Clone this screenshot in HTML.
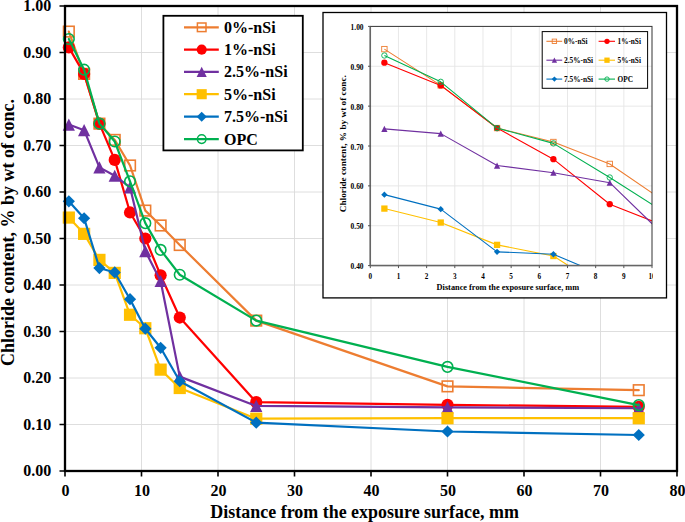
<!DOCTYPE html><html><head><meta charset="utf-8"><title>Chloride content</title>
<style>html,body{margin:0;padding:0;background:#fff}svg{display:block}text{font-family:"Liberation Serif",serif;font-weight:bold;fill:#000}</style></head><body>
<svg width="685" height="522" viewBox="0 0 685 522">
<rect x="0" y="0" width="685" height="522" fill="#fff"/>
<defs><clipPath id="ic"><rect x="370.30" y="26.40" width="281.70" height="239.20"/></clipPath><clipPath id="tc"><rect x="300" y="268" width="353" height="20"/></clipPath></defs>
<path d="M141.50 6.0 V471.0 M218.00 6.0 V471.0 M294.50 6.0 V471.0 M371.00 6.0 V471.0 M447.50 6.0 V471.0 M524.00 6.0 V471.0 M600.50 6.0 V471.0 M65.0 424.50 H677.0 M65.0 378.00 H677.0 M65.0 331.50 H677.0 M65.0 285.00 H677.0 M65.0 238.50 H677.0 M65.0 192.00 H677.0 M65.0 145.50 H677.0 M65.0 99.00 H677.0 M65.0 52.50 H677.0" stroke="#DADADA" stroke-width="0.9" fill="none"/>
<polyline points="68.83,31.58 84.12,73.89 99.42,123.64 114.72,139.92 130.03,165.50 145.32,210.60 160.62,225.48 179.75,245.01 256.25,320.62 447.50,386.37 638.75,390.18" fill="none" stroke="#ED7D31" stroke-width="2.2" stroke-linejoin="round" stroke-linecap="round"/>
<rect x="63.53" y="26.28" width="10.60" height="10.60" fill="none" stroke="#ED7D31" stroke-width="1.6"/>
<rect x="78.83" y="68.59" width="10.60" height="10.60" fill="none" stroke="#ED7D31" stroke-width="1.6"/>
<rect x="94.12" y="118.34" width="10.60" height="10.60" fill="none" stroke="#ED7D31" stroke-width="1.6"/>
<rect x="109.42" y="134.62" width="10.60" height="10.60" fill="none" stroke="#ED7D31" stroke-width="1.6"/>
<rect x="124.73" y="160.19" width="10.60" height="10.60" fill="none" stroke="#ED7D31" stroke-width="1.6"/>
<rect x="140.02" y="205.30" width="10.60" height="10.60" fill="none" stroke="#ED7D31" stroke-width="1.6"/>
<rect x="155.32" y="220.18" width="10.60" height="10.60" fill="none" stroke="#ED7D31" stroke-width="1.6"/>
<rect x="174.45" y="239.71" width="10.60" height="10.60" fill="none" stroke="#ED7D31" stroke-width="1.6"/>
<rect x="250.95" y="315.32" width="10.60" height="10.60" fill="none" stroke="#ED7D31" stroke-width="1.6"/>
<rect x="442.20" y="381.07" width="10.60" height="10.60" fill="none" stroke="#ED7D31" stroke-width="1.6"/>
<rect x="633.45" y="384.88" width="10.60" height="10.60" fill="none" stroke="#ED7D31" stroke-width="1.6"/>
<polyline points="68.83,47.38 84.12,73.89 99.42,123.64 114.72,159.91 130.03,212.46 145.32,238.50 160.62,275.24 179.75,317.55 256.25,402.18 447.50,404.83 638.75,406.83" fill="none" stroke="#FF0000" stroke-width="2.2" stroke-linejoin="round" stroke-linecap="round"/>
<circle cx="68.83" cy="47.38" r="6.10" fill="#FF0000"/>
<circle cx="84.12" cy="73.89" r="6.10" fill="#FF0000"/>
<circle cx="99.42" cy="123.64" r="6.10" fill="#FF0000"/>
<circle cx="114.72" cy="159.91" r="6.10" fill="#FF0000"/>
<circle cx="130.03" cy="212.46" r="6.10" fill="#FF0000"/>
<circle cx="145.32" cy="238.50" r="6.10" fill="#FF0000"/>
<circle cx="160.62" cy="275.24" r="6.10" fill="#FF0000"/>
<circle cx="179.75" cy="317.55" r="6.10" fill="#FF0000"/>
<circle cx="256.25" cy="402.18" r="6.10" fill="#FF0000"/>
<circle cx="447.50" cy="404.83" r="6.10" fill="#FF0000"/>
<circle cx="638.75" cy="406.83" r="6.10" fill="#FF0000"/>
<polyline points="68.83,124.57 84.12,130.16 99.42,167.35 114.72,175.73 130.03,187.35 145.32,251.06 160.62,281.00 179.75,376.61 256.25,405.90 447.50,407.39 638.75,408.23" fill="none" stroke="#7030A0" stroke-width="2.2" stroke-linejoin="round" stroke-linecap="round"/>
<path d="M68.83 118.47 L74.92 130.67 L62.73 130.67 Z" fill="#7030A0"/>
<path d="M84.12 124.06 L90.22 136.26 L78.03 136.26 Z" fill="#7030A0"/>
<path d="M99.42 161.25 L105.52 173.45 L93.33 173.45 Z" fill="#7030A0"/>
<path d="M114.72 169.63 L120.82 181.83 L108.62 181.83 Z" fill="#7030A0"/>
<path d="M130.03 181.25 L136.12 193.45 L123.93 193.45 Z" fill="#7030A0"/>
<path d="M145.32 244.96 L151.42 257.16 L139.22 257.16 Z" fill="#7030A0"/>
<path d="M160.62 274.90 L166.72 287.10 L154.53 287.10 Z" fill="#7030A0"/>
<path d="M179.75 370.50 L185.85 382.71 L173.65 382.71 Z" fill="#7030A0"/>
<path d="M256.25 399.80 L262.35 412.00 L250.15 412.00 Z" fill="#7030A0"/>
<path d="M447.50 401.29 L453.60 413.49 L441.40 413.49 Z" fill="#7030A0"/>
<path d="M638.75 402.12 L644.85 414.33 L632.65 414.33 Z" fill="#7030A0"/>
<polyline points="68.83,217.57 84.12,233.85 99.42,259.89 114.72,272.91 130.03,314.76 145.32,328.25 160.62,369.63 179.75,388.00 256.25,418.69 447.50,418.18 638.75,418.22" fill="none" stroke="#FFC000" stroke-width="2.2" stroke-linejoin="round" stroke-linecap="round"/>
<rect x="62.73" y="211.47" width="12.20" height="12.20" fill="#FFC000"/>
<rect x="78.03" y="227.75" width="12.20" height="12.20" fill="#FFC000"/>
<rect x="93.33" y="253.79" width="12.20" height="12.20" fill="#FFC000"/>
<rect x="108.62" y="266.81" width="12.20" height="12.20" fill="#FFC000"/>
<rect x="123.93" y="308.66" width="12.20" height="12.20" fill="#FFC000"/>
<rect x="139.22" y="322.14" width="12.20" height="12.20" fill="#FFC000"/>
<rect x="154.53" y="363.53" width="12.20" height="12.20" fill="#FFC000"/>
<rect x="173.65" y="381.90" width="12.20" height="12.20" fill="#FFC000"/>
<rect x="250.15" y="412.59" width="12.20" height="12.20" fill="#FFC000"/>
<rect x="441.40" y="412.08" width="12.20" height="12.20" fill="#FFC000"/>
<rect x="632.65" y="412.12" width="12.20" height="12.20" fill="#FFC000"/>
<polyline points="68.83,201.30 84.12,218.23 99.42,268.03 114.72,272.44 130.03,299.18 145.32,328.71 160.62,347.77 179.75,381.25 256.25,422.64 447.50,431.48 638.75,435.01" fill="none" stroke="#0070C0" stroke-width="2.2" stroke-linejoin="round" stroke-linecap="round"/>
<path d="M68.83 195.20 L74.92 201.30 L68.83 207.40 L62.73 201.30 Z" fill="#0070C0"/>
<path d="M84.12 212.13 L90.22 218.23 L84.12 224.33 L78.03 218.23 Z" fill="#0070C0"/>
<path d="M99.42 261.93 L105.52 268.03 L99.42 274.13 L93.33 268.03 Z" fill="#0070C0"/>
<path d="M114.72 266.34 L120.82 272.44 L114.72 278.55 L108.62 272.44 Z" fill="#0070C0"/>
<path d="M130.03 293.08 L136.12 299.18 L130.03 305.28 L123.93 299.18 Z" fill="#0070C0"/>
<path d="M145.32 322.61 L151.42 328.71 L145.32 334.81 L139.22 328.71 Z" fill="#0070C0"/>
<path d="M160.62 341.67 L166.72 347.77 L160.62 353.88 L154.53 347.77 Z" fill="#0070C0"/>
<path d="M179.75 375.15 L185.85 381.25 L179.75 387.36 L173.65 381.25 Z" fill="#0070C0"/>
<path d="M256.25 416.54 L262.35 422.64 L256.25 428.74 L250.15 422.64 Z" fill="#0070C0"/>
<path d="M447.50 425.38 L453.60 431.48 L447.50 437.58 L441.40 431.48 Z" fill="#0070C0"/>
<path d="M638.75 428.91 L644.85 435.01 L638.75 441.11 L632.65 435.01 Z" fill="#0070C0"/>
<polyline points="68.83,39.01 84.12,69.70 99.42,123.64 114.72,141.50 130.03,181.31 145.32,223.15 160.62,249.89 179.75,274.77 256.25,320.62 447.50,366.89 638.75,405.11" fill="none" stroke="#00B050" stroke-width="2.2" stroke-linejoin="round" stroke-linecap="round"/>
<circle cx="68.83" cy="39.01" r="5.30" fill="none" stroke="#00B050" stroke-width="1.6"/>
<circle cx="84.12" cy="69.70" r="5.30" fill="none" stroke="#00B050" stroke-width="1.6"/>
<circle cx="99.42" cy="123.64" r="5.30" fill="none" stroke="#00B050" stroke-width="1.6"/>
<circle cx="114.72" cy="141.50" r="5.30" fill="none" stroke="#00B050" stroke-width="1.6"/>
<circle cx="130.03" cy="181.31" r="5.30" fill="none" stroke="#00B050" stroke-width="1.6"/>
<circle cx="145.32" cy="223.15" r="5.30" fill="none" stroke="#00B050" stroke-width="1.6"/>
<circle cx="160.62" cy="249.89" r="5.30" fill="none" stroke="#00B050" stroke-width="1.6"/>
<circle cx="179.75" cy="274.77" r="5.30" fill="none" stroke="#00B050" stroke-width="1.6"/>
<circle cx="256.25" cy="320.62" r="5.30" fill="none" stroke="#00B050" stroke-width="1.6"/>
<circle cx="447.50" cy="366.89" r="5.30" fill="none" stroke="#00B050" stroke-width="1.6"/>
<circle cx="638.75" cy="405.11" r="5.30" fill="none" stroke="#00B050" stroke-width="1.6"/>
<rect x="65.0" y="6.0" width="612.0" height="465.0" fill="none" stroke="#000" stroke-width="2.3"/>
<path d="M59.5 471.00 H65.0 M59.5 424.50 H65.0 M59.5 378.00 H65.0 M59.5 331.50 H65.0 M59.5 285.00 H65.0 M59.5 238.50 H65.0 M59.5 192.00 H65.0 M59.5 145.50 H65.0 M59.5 99.00 H65.0 M59.5 52.50 H65.0 M59.5 6.00 H65.0 M65.00 471.0 V476.5 M141.50 471.0 V476.5 M218.00 471.0 V476.5 M294.50 471.0 V476.5 M371.00 471.0 V476.5 M447.50 471.0 V476.5 M524.00 471.0 V476.5 M600.50 471.0 V476.5 M677.00 471.0 V476.5" stroke="#000" stroke-width="1.6" fill="none"/>
<text x="51.3" y="476.40" font-size="16" text-anchor="end">0.00</text>
<text x="51.3" y="429.90" font-size="16" text-anchor="end">0.10</text>
<text x="51.3" y="383.40" font-size="16" text-anchor="end">0.20</text>
<text x="51.3" y="336.90" font-size="16" text-anchor="end">0.30</text>
<text x="51.3" y="290.40" font-size="16" text-anchor="end">0.40</text>
<text x="51.3" y="243.90" font-size="16" text-anchor="end">0.50</text>
<text x="51.3" y="197.40" font-size="16" text-anchor="end">0.60</text>
<text x="51.3" y="150.90" font-size="16" text-anchor="end">0.70</text>
<text x="51.3" y="104.40" font-size="16" text-anchor="end">0.80</text>
<text x="51.3" y="57.90" font-size="16" text-anchor="end">0.90</text>
<text x="51.3" y="11.40" font-size="16" text-anchor="end">1.00</text>
<text x="65.50" y="496.2" font-size="16" text-anchor="middle">0</text>
<text x="142.00" y="496.2" font-size="16" text-anchor="middle">10</text>
<text x="218.50" y="496.2" font-size="16" text-anchor="middle">20</text>
<text x="295.00" y="496.2" font-size="16" text-anchor="middle">30</text>
<text x="371.50" y="496.2" font-size="16" text-anchor="middle">40</text>
<text x="448.00" y="496.2" font-size="16" text-anchor="middle">50</text>
<text x="524.50" y="496.2" font-size="16" text-anchor="middle">60</text>
<text x="601.00" y="496.2" font-size="16" text-anchor="middle">70</text>
<text x="677.50" y="496.2" font-size="16" text-anchor="middle">80</text>
<text x="364.6" y="517.9" font-size="18" text-anchor="middle" textLength="308.5" lengthAdjust="spacingAndGlyphs">Distance from the exposure surface, mm</text>
<text transform="translate(13.9 232.4) rotate(-90)" font-size="18" text-anchor="middle" textLength="267" lengthAdjust="spacingAndGlyphs">Chloride content, % by wt of conc.</text>
<rect x="163.4" y="15.8" width="139.4" height="134.6" fill="#fff" stroke="#000" stroke-width="1.8"/>
<path d="M184 27.3 H218.8" stroke="#ED7D31" stroke-width="2.2"/>
<rect x="197.40" y="23.00" width="8.60" height="8.60" fill="none" stroke="#ED7D31" stroke-width="1.5"/>
<text x="224" y="32.70" font-size="16">0%-nSi</text>
<path d="M184 49.6 H218.8" stroke="#FF0000" stroke-width="2.2"/>
<circle cx="201.70" cy="49.60" r="5.05" fill="#FF0000"/>
<text x="224" y="55.00" font-size="16">1%-nSi</text>
<path d="M184 71.9 H218.8" stroke="#7030A0" stroke-width="2.2"/>
<path d="M201.70 66.85 L206.75 76.95 L196.65 76.95 Z" fill="#7030A0"/>
<text x="224" y="77.30" font-size="16">2.5%-nSi</text>
<path d="M184 94.2 H218.8" stroke="#FFC000" stroke-width="2.2"/>
<rect x="196.65" y="89.15" width="10.10" height="10.10" fill="#FFC000"/>
<text x="224" y="99.60" font-size="16">5%-nSi</text>
<path d="M184 116.7 H218.8" stroke="#0070C0" stroke-width="2.2"/>
<path d="M201.70 111.65 L206.75 116.70 L201.70 121.75 L196.65 116.70 Z" fill="#0070C0"/>
<text x="224" y="122.10" font-size="16">7.5%-nSi</text>
<path d="M184 139.1 H218.8" stroke="#00B050" stroke-width="2.2"/>
<circle cx="201.70" cy="139.10" r="4.30" fill="none" stroke="#00B050" stroke-width="1.5"/>
<text x="224" y="144.50" font-size="16">OPC</text>
<rect x="323" y="12.5" width="343.5" height="285.4" fill="#fff" stroke="#000" stroke-width="1.3"/>
<path d="M398.47 26.4 V265.6 M426.64 26.4 V265.6 M454.81 26.4 V265.6 M482.98 26.4 V265.6 M511.15 26.4 V265.6 M539.32 26.4 V265.6 M567.49 26.4 V265.6 M595.66 26.4 V265.6 M623.83 26.4 V265.6 M370.3 225.73 H652.0 M370.3 185.87 H652.0 M370.3 146.00 H652.0 M370.3 106.13 H652.0 M370.3 66.27 H652.0" stroke="#E5E5E5" stroke-width="0.9" fill="none"/>
<g clip-path="url(#ic)">
<polyline points="384.38,49.12 440.73,85.40 497.06,128.06 553.40,142.01 609.75,163.94 666.09,202.61 722.42,215.37" fill="none" stroke="#ED7D31" stroke-width="1.1" stroke-linejoin="round"/>
<rect x="381.69" y="46.42" width="5.40" height="5.40" fill="none" stroke="#ED7D31" stroke-width="0.9"/>
<rect x="438.03" y="82.70" width="5.40" height="5.40" fill="none" stroke="#ED7D31" stroke-width="0.9"/>
<rect x="494.37" y="125.36" width="5.40" height="5.40" fill="none" stroke="#ED7D31" stroke-width="0.9"/>
<rect x="550.70" y="139.31" width="5.40" height="5.40" fill="none" stroke="#ED7D31" stroke-width="0.9"/>
<rect x="607.04" y="161.24" width="5.40" height="5.40" fill="none" stroke="#ED7D31" stroke-width="0.9"/>
<rect x="663.38" y="199.91" width="5.40" height="5.40" fill="none" stroke="#ED7D31" stroke-width="0.9"/>
<polyline points="384.38,62.68 440.73,85.40 497.06,128.06 553.40,159.16 609.75,204.21 666.09,226.53 722.42,258.03" fill="none" stroke="#FF0000" stroke-width="1.1" stroke-linejoin="round"/>
<circle cx="384.38" cy="62.68" r="3.15" fill="#FF0000"/>
<circle cx="440.73" cy="85.40" r="3.15" fill="#FF0000"/>
<circle cx="497.06" cy="128.06" r="3.15" fill="#FF0000"/>
<circle cx="553.40" cy="159.16" r="3.15" fill="#FF0000"/>
<circle cx="609.75" cy="204.21" r="3.15" fill="#FF0000"/>
<circle cx="666.09" cy="226.53" r="3.15" fill="#FF0000"/>
<polyline points="384.38,128.86 440.73,133.64 497.06,165.53 553.40,172.71 609.75,182.68 666.09,237.29 722.42,262.97" fill="none" stroke="#7030A0" stroke-width="1.1" stroke-linejoin="round"/>
<path d="M384.38 125.71 L387.53 132.01 L381.24 132.01 Z" fill="#7030A0"/>
<path d="M440.73 130.49 L443.88 136.79 L437.58 136.79 Z" fill="#7030A0"/>
<path d="M497.06 162.38 L500.21 168.68 L493.92 168.68 Z" fill="#7030A0"/>
<path d="M553.40 169.56 L556.55 175.86 L550.25 175.86 Z" fill="#7030A0"/>
<path d="M609.75 179.53 L612.89 185.83 L606.60 185.83 Z" fill="#7030A0"/>
<path d="M666.09 234.14 L669.24 240.44 L662.94 240.44 Z" fill="#7030A0"/>
<polyline points="384.38,208.59 440.73,222.54 497.06,244.87 553.40,256.03 609.75,291.91 666.09,303.47 722.42,338.95" fill="none" stroke="#FFC000" stroke-width="1.1" stroke-linejoin="round"/>
<rect x="381.24" y="205.44" width="6.30" height="6.30" fill="#FFC000"/>
<rect x="437.58" y="219.39" width="6.30" height="6.30" fill="#FFC000"/>
<rect x="493.92" y="241.72" width="6.30" height="6.30" fill="#FFC000"/>
<rect x="550.25" y="252.88" width="6.30" height="6.30" fill="#FFC000"/>
<rect x="606.60" y="288.76" width="6.30" height="6.30" fill="#FFC000"/>
<rect x="662.94" y="300.32" width="6.30" height="6.30" fill="#FFC000"/>
<polyline points="384.38,194.64 440.73,209.15 497.06,251.85 553.40,254.24 609.75,277.96 666.09,303.87 722.42,320.22" fill="none" stroke="#0070C0" stroke-width="1.1" stroke-linejoin="round"/>
<path d="M384.38 191.49 L387.53 194.64 L384.38 197.79 L381.24 194.64 Z" fill="#0070C0"/>
<path d="M440.73 206.00 L443.88 209.15 L440.73 212.30 L437.58 209.15 Z" fill="#0070C0"/>
<path d="M497.06 248.70 L500.21 251.85 L497.06 255.00 L493.92 251.85 Z" fill="#0070C0"/>
<path d="M553.40 251.09 L556.55 254.24 L553.40 257.39 L550.25 254.24 Z" fill="#0070C0"/>
<path d="M609.75 274.81 L612.89 277.96 L609.75 281.11 L606.60 277.96 Z" fill="#0070C0"/>
<path d="M666.09 300.72 L669.24 303.87 L666.09 307.02 L662.94 303.87 Z" fill="#0070C0"/>
<polyline points="384.38,55.50 440.73,81.81 497.06,128.06 553.40,143.37 609.75,177.49 666.09,213.37 722.42,236.30" fill="none" stroke="#00B050" stroke-width="1.1" stroke-linejoin="round"/>
<circle cx="384.38" cy="55.50" r="2.70" fill="none" stroke="#00B050" stroke-width="0.9"/>
<circle cx="440.73" cy="81.81" r="2.70" fill="none" stroke="#00B050" stroke-width="0.9"/>
<circle cx="497.06" cy="128.06" r="2.70" fill="none" stroke="#00B050" stroke-width="0.9"/>
<circle cx="553.40" cy="143.37" r="2.70" fill="none" stroke="#00B050" stroke-width="0.9"/>
<circle cx="609.75" cy="177.49" r="2.70" fill="none" stroke="#00B050" stroke-width="0.9"/>
<circle cx="666.09" cy="213.37" r="2.70" fill="none" stroke="#00B050" stroke-width="0.9"/>
</g>
<rect x="370.3" y="26.4" width="281.70" height="239.20" fill="none" stroke="#333" stroke-width="1"/>
<path d="M370.3 26.4 V265.6 H652.0" fill="none" stroke="#666" stroke-width="1.5"/>
<path d="M368.0 265.60 H370.3 M368.0 225.73 H370.3 M368.0 185.87 H370.3 M368.0 146.00 H370.3 M368.0 106.13 H370.3 M368.0 66.27 H370.3 M368.0 26.40 H370.3 M370.30 265.6 V268.1 M398.47 265.6 V268.1 M426.64 265.6 V268.1 M454.81 265.6 V268.1 M482.98 265.6 V268.1 M511.15 265.6 V268.1 M539.32 265.6 V268.1 M567.49 265.6 V268.1 M595.66 265.6 V268.1 M623.83 265.6 V268.1 M652.00 265.6 V268.1" stroke="#555" stroke-width="1" fill="none"/>
<text x="363.6" y="269.10" font-size="7.3" text-anchor="end" textLength="13" lengthAdjust="spacingAndGlyphs">0.40</text>
<text x="363.6" y="229.23" font-size="7.3" text-anchor="end" textLength="13" lengthAdjust="spacingAndGlyphs">0.50</text>
<text x="363.6" y="189.37" font-size="7.3" text-anchor="end" textLength="13" lengthAdjust="spacingAndGlyphs">0.60</text>
<text x="363.6" y="149.50" font-size="7.3" text-anchor="end" textLength="13" lengthAdjust="spacingAndGlyphs">0.70</text>
<text x="363.6" y="109.63" font-size="7.3" text-anchor="end" textLength="13" lengthAdjust="spacingAndGlyphs">0.80</text>
<text x="363.6" y="69.77" font-size="7.3" text-anchor="end" textLength="13" lengthAdjust="spacingAndGlyphs">0.90</text>
<text x="363.6" y="29.90" font-size="7.3" text-anchor="end" textLength="13" lengthAdjust="spacingAndGlyphs">1.00</text>
<g clip-path="url(#tc)">
<text x="370.30" y="278.6" font-size="7.2" text-anchor="middle">0</text>
<text x="398.47" y="278.6" font-size="7.2" text-anchor="middle">1</text>
<text x="426.64" y="278.6" font-size="7.2" text-anchor="middle">2</text>
<text x="454.81" y="278.6" font-size="7.2" text-anchor="middle">3</text>
<text x="482.98" y="278.6" font-size="7.2" text-anchor="middle">4</text>
<text x="511.15" y="278.6" font-size="7.2" text-anchor="middle">5</text>
<text x="539.32" y="278.6" font-size="7.2" text-anchor="middle">6</text>
<text x="567.49" y="278.6" font-size="7.2" text-anchor="middle">7</text>
<text x="595.66" y="278.6" font-size="7.2" text-anchor="middle">8</text>
<text x="623.83" y="278.6" font-size="7.2" text-anchor="middle">9</text>
<text x="652.00" y="278.6" font-size="7.2" text-anchor="middle">10</text>
</g>
<text x="507.9" y="289.9" font-size="8.5" text-anchor="middle" textLength="142.6" lengthAdjust="spacingAndGlyphs">Distance from the exposure surface, mm</text>
<text transform="translate(345.9 143.7) rotate(-90)" font-size="9" text-anchor="middle" textLength="137" lengthAdjust="spacingAndGlyphs">Chloride  content, % by wt of conc.</text>
<rect x="542.2" y="31.6" width="105.4" height="56.7" fill="none" stroke="#000" stroke-width="1"/>
<path d="M546.4 41.3 H562.2" stroke="#ED7D31" stroke-width="1.1"/>
<rect x="552.20" y="39.10" width="4.40" height="4.40" fill="none" stroke="#ED7D31" stroke-width="0.9"/>
<text x="564.10" y="44.00" font-size="7.6" textLength="23.4" lengthAdjust="spacingAndGlyphs">0%-nSi</text>
<path d="M598.6 41.3 H615.0" stroke="#FF0000" stroke-width="1.1"/>
<circle cx="607.00" cy="41.30" r="2.65" fill="#FF0000"/>
<text x="617.50" y="44.00" font-size="7.6" textLength="23.4" lengthAdjust="spacingAndGlyphs">1%-nSi</text>
<path d="M546.4 60.2 H562.2" stroke="#7030A0" stroke-width="1.1"/>
<path d="M554.40 57.55 L557.05 62.85 L551.75 62.85 Z" fill="#7030A0"/>
<text x="564.10" y="62.90" font-size="7.6" textLength="29.0" lengthAdjust="spacingAndGlyphs">2.5%-nSi</text>
<path d="M598.6 60.2 H615.0" stroke="#FFC000" stroke-width="1.1"/>
<rect x="604.35" y="57.55" width="5.30" height="5.30" fill="#FFC000"/>
<text x="617.50" y="62.90" font-size="7.6" textLength="23.4" lengthAdjust="spacingAndGlyphs">5%-nSi</text>
<path d="M546.4 79.1 H562.2" stroke="#0070C0" stroke-width="1.1"/>
<path d="M554.40 76.45 L557.05 79.10 L554.40 81.75 L551.75 79.10 Z" fill="#0070C0"/>
<text x="564.10" y="81.80" font-size="7.6" textLength="29.0" lengthAdjust="spacingAndGlyphs">7.5%-nSi</text>
<path d="M598.6 79.1 H615.0" stroke="#00B050" stroke-width="1.1"/>
<circle cx="607.00" cy="79.10" r="2.20" fill="none" stroke="#00B050" stroke-width="0.9"/>
<text x="617.50" y="81.80" font-size="7.6" textLength="15.5" lengthAdjust="spacingAndGlyphs">OPC</text>
</svg></body></html>
